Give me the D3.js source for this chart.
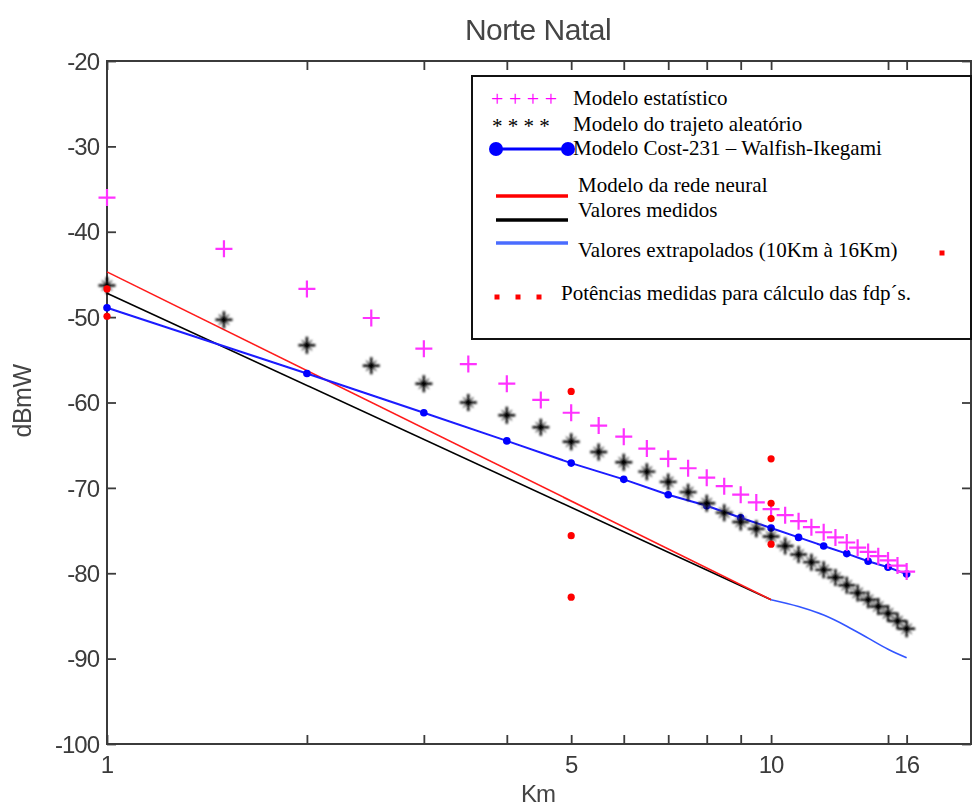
<!DOCTYPE html>
<html><head><meta charset="utf-8">
<script src="https://cdn.jsdelivr.net/npm/d3@7"></script>
<style>html,body{margin:0;padding:0;background:#fff;}svg{display:block;}</style>
</head><body>
<script>
// ---- data ----
const title = "Norte Natal";
const xLabel = "Km";
const yLabel = "dBmW";
const xTickVals = [1, 2, 3, 4, 5, 6, 7, 8, 9, 10, 15, 16];
const xTickLabels = [1, 5, 10, 16];
const yTickVals = [-20, -30, -40, -50, -60, -70, -80, -90, -100];

const halfKm = [1,1.5,2,2.5,3,3.5,4,4.5,5,5.5,6,6.5,7,7.5,8,8.5,9,9.5,10,10.5,11,11.5,12,12.5,13,13.5,14,14.5,15,15.5,16];
const statModel = [-36,-42,-46.7,-50.1,-53.7,-55.5,-57.8,-59.7,-61.2,-62.7,-64.0,-65.4,-66.6,-67.7,-68.8,-69.8,-70.8,-71.7,-72.5,-73.2,-73.9,-74.6,-75.2,-75.8,-76.4,-77.0,-77.5,-78.0,-78.5,-79.1,-79.8];
const randomPath = [-46.3,-50.3,-53.3,-55.7,-57.8,-60.0,-61.5,-62.9,-64.6,-65.8,-67.0,-68.1,-69.3,-70.5,-71.8,-72.9,-74.0,-74.8,-75.7,-76.8,-77.8,-78.7,-79.6,-80.5,-81.4,-82.3,-83.1,-83.9,-84.7,-85.6,-86.5];

const intKm = [1,2,3,4,5,6,7,8,9,10,11,12,13,14,15,16];
const cost231 = [-48.9,-56.6,-61.2,-64.5,-67.1,-69.0,-70.8,-72.1,-73.5,-74.7,-75.8,-76.8,-77.7,-78.6,-79.3,-80.1];

const lineKm = [1, 10];
const neuralNet = [-44.7, -83.1];
const measured = [-47.2, -83.1];

const extrapKm = [10, 11, 12, 13, 14, 15, 16];
const extrapolated = [-83.1, -83.9, -84.9, -86.2, -87.6, -88.9, -89.9];

const fdpKm = [1, 1, 5, 5, 5, 10, 10, 10, 10];
const fdpPower = [-46.7, -49.9, -58.7, -75.6, -82.8, -66.6, -71.8, -73.6, -76.6];

const legendLabels = [
  "Modelo estatístico",
  "Modelo do trajeto aleatório",
  "Modelo Cost-231 – Walfish-Ikegami",
  "Modelo da rede neural",
  "Valores medidos",
  "Valores extrapolados (10Km à 16Km)",
  "Potências medidas para cálculo das fdp´s."
];

// ---- drawing ----
const W = 973, H = 809;
const L = 107, R = 971, T = 61, B = 744;
const x = d3.scaleLog().domain([1, 20]).range([L, R]);
const y = d3.scaleLinear().domain([-100, -20]).range([B, T]);

const svg = d3.select("body").append("svg").attr("width", W).attr("height", H);
svg.append("rect").attr("width", W).attr("height", H).attr("fill", "#fff");
const defs = svg.append("defs");
defs.append("filter").attr("id", "blur").attr("x", "-10%").attr("y", "-10%").attr("width", "120%").attr("height", "120%")
  .append("feGaussianBlur").attr("stdDeviation", 0.6);
defs.append("filter").attr("id", "blur2").attr("x", "-50%").attr("y", "-50%").attr("width", "200%").attr("height", "200%")
  .append("feGaussianBlur").attr("stdDeviation", 0.9);

const g = svg.append("g").attr("filter", "url(#blur)");
const axColor = "#3a3a3a";
const sansFont = "'Liberation Sans', Arial, sans-serif";

// box
g.append("rect").attr("x", L).attr("y", T).attr("width", R - L).attr("height", B - T)
  .attr("fill", "none").attr("stroke", axColor).attr("stroke-width", 2);

// axes with inward ticks
const tickLen = 9;
g.append("g").attr("transform", `translate(0,${B})`)
  .call(d3.axisBottom(x).tickValues(xTickVals).tickSizeInner(-tickLen).tickSizeOuter(0).tickFormat(""))
  .call(s => { s.select(".domain").remove(); s.selectAll("line").attr("stroke", axColor).attr("stroke-width", 1.8); });
g.append("g").attr("transform", `translate(0,${T})`)
  .call(d3.axisTop(x).tickValues(xTickVals).tickSizeInner(-tickLen).tickSizeOuter(0).tickFormat(""))
  .call(s => { s.select(".domain").remove(); s.selectAll("line").attr("stroke", axColor).attr("stroke-width", 1.8); });
g.append("g").attr("transform", `translate(${L},0)`)
  .call(d3.axisLeft(y).tickValues(yTickVals).tickSizeInner(-tickLen).tickSizeOuter(0).tickFormat(""))
  .call(s => { s.select(".domain").remove(); s.selectAll("line").attr("stroke", axColor).attr("stroke-width", 1.8); });
g.append("g").attr("transform", `translate(${R},0)`)
  .call(d3.axisRight(y).tickValues(yTickVals).tickSizeInner(-tickLen).tickSizeOuter(0).tickFormat(""))
  .call(s => { s.select(".domain").remove(); s.selectAll("line").attr("stroke", axColor).attr("stroke-width", 1.8); });

// tick labels
g.selectAll(".yl").data(yTickVals).join("text")
  .attr("x", L - 8).attr("y", d => y(d)).attr("dy", "0.36em")
  .attr("text-anchor", "end").attr("font-family", sansFont).attr("font-size", 24)
  .attr("letter-spacing", -1).attr("fill", axColor).text(d => d);
g.selectAll(".xl").data(xTickLabels).join("text")
  .attr("x", d => x(d)).attr("y", 773)
  .attr("text-anchor", "middle").attr("font-family", sansFont).attr("font-size", 24)
  .attr("letter-spacing", -1).attr("fill", axColor).text(d => d);

// titles
g.append("text").attr("x", 538).attr("y", 40).attr("text-anchor", "middle")
  .attr("font-family", sansFont).attr("font-size", 30).attr("letter-spacing", -0.5).attr("fill", "#444").text(title);
g.append("text").attr("x", 538).attr("y", 802).attr("text-anchor", "middle")
  .attr("font-family", sansFont).attr("font-size", 24).attr("letter-spacing", -1).attr("fill", "#444").text(xLabel);
g.append("text").attr("transform", "translate(31,401) rotate(-90)").attr("text-anchor", "middle")
  .attr("font-family", sansFont).attr("font-size", 25).attr("letter-spacing", -0.5).attr("fill", "#444").text(yLabel);

// lines
const lineGen = d3.line().x(d => x(d[0])).y(d => y(d[1]));
const zip = (a, b) => a.map((v, i) => [v, b[i]]);

g.append("path").datum(zip(lineKm, measured)).attr("d", lineGen)
  .attr("fill", "none").attr("stroke", "#000").attr("stroke-width", 1.6);
g.append("path").datum(zip(lineKm, neuralNet)).attr("d", lineGen)
  .attr("fill", "none").attr("stroke", "#ff1a1a").attr("stroke-width", 1.6);
g.append("path").datum(zip(extrapKm, extrapolated)).attr("d", d3.line().curve(d3.curveMonotoneX).x(d => x(d[0])).y(d => y(d[1])))
  .attr("fill", "none").attr("stroke", "#3355ff").attr("stroke-width", 1.6);

// Cost-231
g.append("path").datum(zip(intKm, cost231)).attr("d", lineGen)
  .attr("fill", "none").attr("stroke", "#1a1aff").attr("stroke-width", 2);
g.selectAll(".cd").data(zip(intKm, cost231)).join("circle")
  .attr("cx", d => x(d[0])).attr("cy", d => y(d[1])).attr("r", 3.8).attr("fill", "#0000ff");

// stat model "+"
const plusPath = s => `M${-s},0H${s}M0,${-s}V${s}`;
g.selectAll(".sp").data(zip(halfKm, statModel)).join("path")
  .attr("transform", d => `translate(${x(d[0])},${y(d[1])})`)
  .attr("d", plusPath(8.5)).attr("stroke", "#ff33ff").attr("stroke-width", 2.2).attr("fill", "none");

// random path "*"
const starG = g.append("g").attr("filter", "url(#blur2)");
starG.selectAll(".st").data(zip(halfKm, randomPath)).join("g")
  .attr("transform", d => `translate(${x(d[0])},${y(d[1])})`)
  .each(function () {
    const s = d3.select(this);
    s.append("path").attr("d", plusPath(8.5)).attr("stroke", "#000").attr("stroke-width", 2.4);
    s.append("path").attr("d", "M-5,-5L5,5M-5,5L5,-5").attr("stroke", "#555").attr("stroke-width", 1.6);
    s.append("circle").attr("r", 3).attr("fill", "#000");
  });

// measured powers
g.selectAll(".fd").data(zip(fdpKm, fdpPower)).join("circle")
  .attr("cx", d => x(d[0])).attr("cy", d => y(d[1])).attr("r", 3.6).attr("fill", "#ff0000");

// ---- legend ----
const lg = svg.append("g");
lg.append("rect").attr("x", 472).attr("y", 76).attr("width", 499).attr("height", 263)
  .attr("fill", "#fff").attr("stroke", "#111").attr("stroke-width", 2);
const serif = "'Liberation Serif', 'Times New Roman', serif";
const lgText = [[573, 105], [573, 131], [573, 155], [578, 192], [578, 217], [578, 257], [561, 300]];
lg.selectAll(".lt").data(legendLabels).join("text")
  .attr("x", (d, i) => lgText[i][0]).attr("y", (d, i) => lgText[i][1])
  .attr("font-family", serif).attr("font-size", 21).attr("fill", "#000").text(d => d);
lg.append("text").attr("x", 491).attr("y", 106).attr("font-family", serif).attr("font-size", 22)
  .attr("fill", "#ff00ff").text("+ + + +");
lg.append("text").attr("x", 492).attr("y", 133).attr("font-family", serif).attr("font-size", 21)
  .attr("fill", "#000").text("* * * *");
lg.append("line").attr("x1", 496).attr("x2", 568).attr("y1", 149).attr("y2", 149)
  .attr("stroke", "#0000ff").attr("stroke-width", 3);
lg.selectAll(".lc").data([496, 568]).join("circle").attr("cx", d => d).attr("cy", 149).attr("r", 7).attr("fill", "#0000ff");
lg.append("line").attr("x1", 496).attr("x2", 568).attr("y1", 196).attr("y2", 196).attr("stroke", "#ff0000").attr("stroke-width", 3.5);
lg.append("line").attr("x1", 496).attr("x2", 568).attr("y1", 220).attr("y2", 220).attr("stroke", "#000").attr("stroke-width", 3.5);
lg.append("line").attr("x1", 496).attr("x2", 568).attr("y1", 243).attr("y2", 243).attr("stroke", "#4a6cff").attr("stroke-width", 3.5);
lg.selectAll(".lsq").data([[497, 297], [518, 297], [539, 297], [942, 253]]).join("rect")
  .attr("x", d => d[0] - 2.5).attr("y", d => d[1] - 2.5).attr("width", 5).attr("height", 5).attr("fill", "#ff0000");
</script>
</body></html>
